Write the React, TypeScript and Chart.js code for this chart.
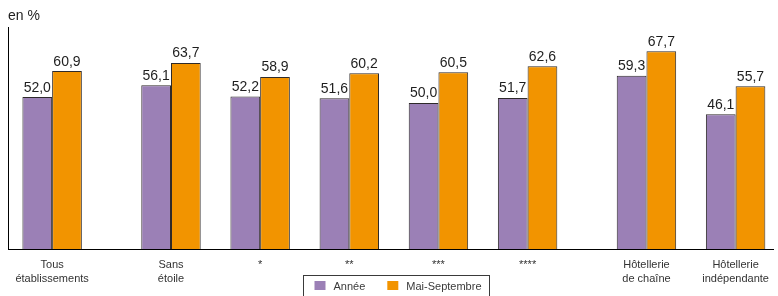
import React, { useEffect, useRef } from "react";
import { Chart, registerables } from "chart.js";

Chart.register(...registerables);

// ---- data ----
const categories: string[][] = [
  ["Tous", "établissements"],
  ["Sans", "étoile"],
  ["*"],
  ["**"],
  ["***"],
  ["****"],
  ["Hôtellerie", "de chaîne"],
  ["Hôtellerie", "indépendante"],
];
// group slots on the x axis (wider gaps separate the three sections)
const groupSlots = [0, 4, 7, 10, 13, 16, 20, 23];
const anneeValues = [52.0, 56.1, 52.2, 51.6, 50.0, 51.7, 59.3, 46.1];
const maiSeptValues = [60.9, 63.7, 58.9, 60.2, 60.5, 62.6, 67.7, 55.7];
const seriesNames = ["Année", "Mai-Septembre"];
const unitLabel = "en %";

// ---- style ----
const FONT = "'Liberation Sans', Arial, Helvetica, sans-serif";
const PURPLE = "#9b80b6";
const ORANGE = "#f29400";
const BORDER = "#2e2a2a";

const fmt = (v: number) => v.toFixed(1).replace(".", ",");

const valueLabels = {
  id: "valueLabels",
  afterDatasetsDraw(chart: any) {
    const ctx = chart.ctx;
    ctx.save();
    ctx.font = `14px ${FONT}`;
    ctx.fillStyle = "#1e1e1e";
    ctx.textAlign = "center";
    ctx.textBaseline = "alphabetic";
    chart.data.datasets.forEach((ds: any, di: number) => {
      const meta = chart.getDatasetMeta(di);
      meta.data.forEach((bar: any, i: number) => {
        const v = ds.data[i].y;
        ctx.fillText(fmt(v), bar.x, bar.y - 5.5);
      });
    });
    ctx.restore();
  },
};

const boxedLegend = {
  id: "boxedLegend",
  afterDraw(chart: any) {
    const ctx = chart.ctx;
    const ds = chart.data.datasets;
    ctx.save();
    ctx.font = `11px ${FONT}`;
    const sq = 11;
    const padL = 11;
    const gapText = 8;
    const gapItem = 22;
    const padR = 8;
    const widths = ds.map((d: any) => ctx.measureText(d.label).width);
    let total = padL + padR;
    widths.forEach((w: number, i: number) => {
      total += sq + gapText + w + (i < widths.length - 1 ? gapItem : 0);
    });
    const area = chart.chartArea;
    const cx = (area.left + area.right) / 2 + 5.5;
    const left = Math.round(cx - total / 2) + 0.5;
    const top = 275.5;
    ctx.strokeStyle = "#3a3a3a";
    ctx.lineWidth = 1;
    ctx.strokeRect(left, top, total, 40);
    let x = left + padL;
    ds.forEach((d: any, i: number) => {
      ctx.fillStyle = d.backgroundColor;
      ctx.fillRect(x, 281, sq, 9);
      x += sq + gapText;
      ctx.fillStyle = "#3a3a3a";
      ctx.textAlign = "left";
      ctx.textBaseline = "alphabetic";
      ctx.fillText(d.label, x, 290);
      x += widths[i] + gapItem;
    });
    ctx.restore();
  },
};

export default function App() {
  const ref = useRef<HTMLCanvasElement | null>(null);

  useEffect(() => {
    if (!ref.current) return;
    const chart = new Chart(ref.current, {
      type: "bar",
      data: {
        datasets: [
          {
            label: seriesNames[0],
            data: groupSlots.map((x, i) => ({ x, y: anneeValues[i] })),
            backgroundColor: PURPLE,
            borderColor: BORDER,
            borderWidth: 1,
            categoryPercentage: 2 / 3,
            barPercentage: 1,
          },
          {
            label: seriesNames[1],
            data: groupSlots.map((x, i) => ({ x, y: maiSeptValues[i] })),
            backgroundColor: ORANGE,
            borderColor: BORDER,
            borderWidth: 1,
            categoryPercentage: 2 / 3,
            barPercentage: 1,
          },
        ],
      } as any,
      options: {
        responsive: false,
        animation: false,
        events: [],
        layout: { padding: { left: 8, right: 1, top: 0, bottom: 0 } },
        plugins: {
          legend: { display: false },
          tooltip: { enabled: false },
          title: {
            display: true,
            text: unitLabel,
            align: "start",
            color: "#1e1e1e",
            font: { family: FONT, size: 14, weight: "normal", lineHeight: 1.2 },
            padding: { top: 8, bottom: 2.2 },
          },
        },
        scales: {
          x: {
            type: "linear",
            min: -1.485,
            max: 24.29,
            offset: false,
            grid: { display: false, drawTicks: false },
            border: { display: true, color: "#000", width: 1 },
            afterBuildTicks: (scale: any) => {
              scale.ticks = groupSlots.map((v) => ({ value: v }));
            },
            afterFit: (scale: any) => {
              scale.height = 47;
            },
            ticks: {
              autoSkip: false,
              maxRotation: 0,
              padding: 9,
              color: "#333",
              font: { family: FONT, size: 11, lineHeight: 1.25 },
              callback: (value: any) => {
                const i = groupSlots.indexOf(Number(value));
                return i >= 0 ? categories[i] : "";
              },
            },
          },
          y: {
            min: 0,
            max: 76,
            grid: { display: false, drawTicks: false },
            border: { display: true, color: "#000", width: 1 },
            ticks: { display: false },
          },
        },
      } as any,
      plugins: [valueLabels, boxedLegend],
    });
    return () => chart.destroy();
  }, []);

  return (
    <div
      style={{
        position: "fixed",
        left: 0,
        top: 0,
        width: 778,
        height: 296,
        background: "#fff",
      }}
    >
      <canvas ref={ref} width={778} height={296} style={{ display: "block" }} />
    </div>
  );
}
